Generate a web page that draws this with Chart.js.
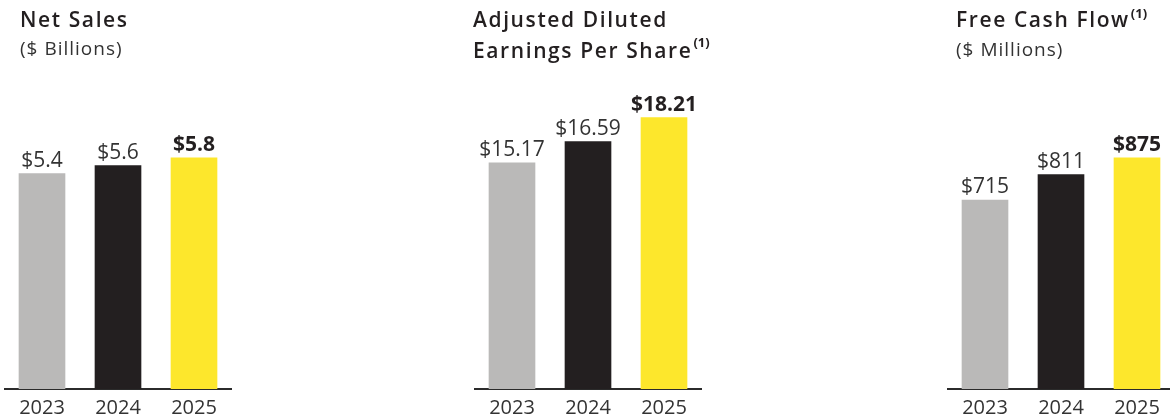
<!DOCTYPE html>
<html>
<head>
<meta charset="utf-8">
<script src="https://cdn.jsdelivr.net/npm/chart.js@4.4.1/dist/chart.umd.min.js"></script>
<style>
  html, body { margin: 0; padding: 0; background: #fff; overflow: hidden; }
  body { width: 1170px; height: 420px; position: relative; }
  canvas { position: absolute; top: 0; }
  .title {
    position: absolute; font-family: "Open Sans", sans-serif; font-weight: 600;
    font-size: 21px; line-height: 31px; color: #231f20; letter-spacing: 1.6px; white-space: nowrap;
  }
  .sub {
    position: absolute; font-family: "Open Sans", sans-serif; font-weight: 400;
    font-size: 19px; line-height: 24px; color: #333; letter-spacing: 1px; white-space: nowrap;
  }
  .note { font-size: 13px; font-weight: 700; vertical-align: 11px; line-height: 0; letter-spacing: 0; margin-left: 1px; }
</style>
</head>
<body>
<canvas id="salesChart" width="228" height="427" style="left:4px"></canvas>
<canvas id="epsChart" width="228" height="427" style="left:474px"></canvas>
<canvas id="fcfChart" width="228" height="427" style="left:947px"></canvas>

<div class="title" style="left:20px; top:4px">Net Sales</div>
<div class="sub" style="left:20px; top:36px">($ Billions)</div>

<div class="title" style="left:473px; top:4px">Adjusted Diluted<br>Earnings Per Share<span class="note">(1)</span></div>

<div class="title" style="left:956px; top:4px">Free Cash Flow<span class="note" style="vertical-align:9px">(1)</span></div>
<div class="sub" style="left:956px; top:37px">($ Millions)</div>

<script>
const years = ['2023', '2024', '2025'];
const netSales = [5.4, 5.6, 5.8];          // $ billions
const adjustedEps = [15.17, 16.59, 18.21]; // $ per share
const freeCashFlow = [715, 811, 875];      // $ millions
const barColors = ['#bab9b8', '#231f20', '#fde72c'];

// draws the value above each bar, last one in bold
const valueLabels = {
    id: 'valueLabels',
    afterDatasetsDraw(chart, args, opts) {
        const ctx = chart.ctx;
        const meta = chart.getDatasetMeta(0);
        const values = chart.data.datasets[0].data;
        ctx.save();
        ctx.textAlign = 'center';
        ctx.textBaseline = 'alphabetic';
        meta.data.forEach((bar, i) => {
            const last = i === values.length - 1;
            ctx.font = (last ? '700' : '400') + ' 21px "Open Sans"';
            ctx.fillStyle = last ? '#231f20' : '#333333';
            ctx.fillText(opts.format(values[i]), bar.x, bar.y - 7);
        });
        ctx.restore();
    }
};

function barChart(id, values, yMax, format) {
    const ctx = document.getElementById(id);
    return new Chart(ctx, {
        type: 'bar',
        data: {
            labels: years,
            datasets: [{
                data: values,
                backgroundColor: barColors,
                barThickness: 46,
                borderWidth: 0
            }]
        },
        options: {
            responsive: false,
            animation: false,
            layout: { padding: { top: 70, left: 0, right: 0, bottom: 0 } },
            plugins: {
                legend: { display: false },
                tooltip: { enabled: false },
                valueLabels: { format: format }
            },
            scales: {
                x: {
                    grid: { display: false, drawTicks: false },
                    border: { display: true, color: '#2b2b2b', width: 2 },
                    ticks: {
                        color: '#333333',
                        padding: 7,
                        font: { family: '"Open Sans"', size: 20 }
                    }
                },
                y: {
                    display: false,
                    min: 0,
                    max: yMax
                }
            }
        },
        plugins: [valueLabels]
    });
}

barChart('salesChart', netSales, 8.0, v => '$' + v.toFixed(1));
barChart('epsChart', adjustedEps, 21.4, v => '$' + v.toFixed(2));
barChart('fcfChart', freeCashFlow, 1207, v => '$' + v);
</script>
</body>
</html>
